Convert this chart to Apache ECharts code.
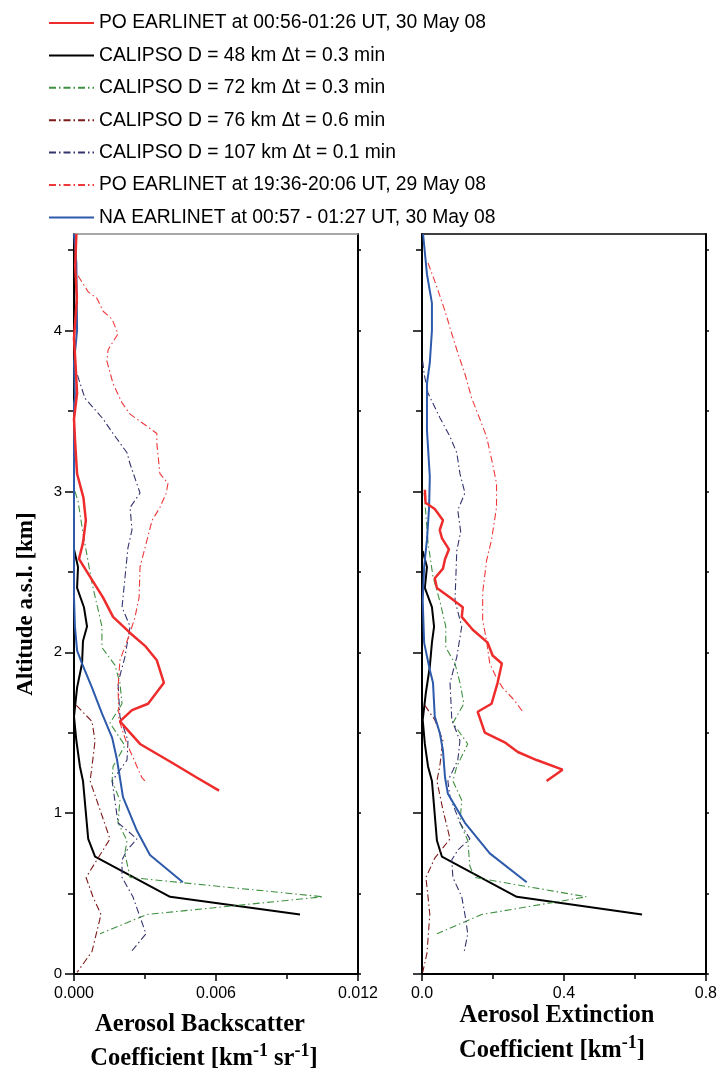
<!DOCTYPE html>
<html>
<head>
<meta charset="utf-8">
<script src="https://cdn.jsdelivr.net/npm/echarts@6/dist/echarts.min.js"></script>
<style>
  html, body { margin: 0; padding: 0; background: #fff; }
  #chart { width: 720px; height: 1068px; }
</style>
</head>
<body>
<div id="chart"></div>
<script>
// altitude ticks (km) and x tick labels
const altLabels = [0, 1, 2, 3, 4];
const altMinor = [0.5, 1.5, 2.5, 3.5, 4.5];
const altAll = [0, 0.5, 1, 1.5, 2, 2.5, 3, 3.5, 4, 4.5];
const bscTicks = [0, 0.006, 0.012];
const extTicks = [0, 0.4, 0.8];

const names = [
  'PO EARLINET at 00:56-01:26 UT, 30 May 08',
  'CALIPSO D = 48 km \u0394t = 0.3 min',
  'CALIPSO D = 72 km \u0394t = 0.3 min',
  'CALIPSO D = 76 km \u0394t = 0.6 min',
  'CALIPSO D = 107 km \u0394t = 0.1 min',
  'PO EARLINET at 19:36-20:06 UT, 29 May 08',
  'NA EARLINET at 00:57 - 01:27 UT, 30 May 08'
];

// backscatter [value, altitude]
const bscPo30 = [[0.0001,4.6],[0.00005,4.4],[0.00012,4.2],[0.0,3.95],[0.00008,3.75],[0.00013,3.61],[0.0,3.45],[0.00005,3.3],[0.00013,3.11],[0.0004,2.96],[0.0005,2.82],[0.00038,2.68],[0.00021,2.58],[0.00055,2.5],[0.00123,2.34],[0.00165,2.22],[0.00237,2.12],[0.003,2.04],[0.0035,1.95],[0.0038,1.81],[0.00313,1.68],[0.00245,1.64],[0.00194,1.57],[0.00279,1.43],[0.00418,1.31],[0.0052,1.22],[0.00613,1.14]];
const bscCal48 = [[0.0,2.64],[0.00017,2.53],[0.00013,2.4],[0.00042,2.28],[0.00055,2.16],[0.00038,2.07],[0.00034,1.93],[0.00013,1.78],[0.0,1.6],[0.0001,1.45],[0.00025,1.29],[0.00038,1.2],[0.0006,0.84],[0.00089,0.73],[0.00406,0.48],[0.00955,0.37]];
const bscCal72 = [[0.00004,3.0],[0.00017,2.94],[0.00038,2.74],[0.00076,2.43],[0.00118,2.16],[0.00118,2.03],[0.00173,1.92],[0.00194,1.81],[0.00203,1.68],[0.00152,1.56],[0.00215,1.42],[0.00165,1.29],[0.00161,1.2],[0.00194,1.08],[0.00186,0.94],[0.00224,0.83],[0.00215,0.75],[0.00237,0.6],[0.01052,0.48],[0.00308,0.37],[0.0011,0.25]];
const bscCal76 = [[0.0001,1.67],[0.00076,1.57],[0.00089,1.45],[0.00076,1.29],[0.00068,1.2],[0.0011,1.02],[0.00152,0.84],[0.00097,0.71],[0.00051,0.6],[0.0008,0.48],[0.00114,0.37],[0.00076,0.14],[0.00013,0.01]];
const bscCal107 = [[0.0,3.81],[0.00013,3.73],[0.00046,3.58],[0.00123,3.45],[0.00165,3.36],[0.00224,3.24],[0.00237,3.17],[0.00279,2.99],[0.00237,2.9],[0.00245,2.76],[0.00228,2.65],[0.00203,2.28],[0.00237,2.16],[0.00215,1.97],[0.00186,1.81],[0.00194,1.6],[0.00228,1.45],[0.00224,1.33],[0.00161,1.2],[0.00186,0.94],[0.00266,0.84],[0.00224,0.77],[0.00203,0.71],[0.00203,0.6],[0.00249,0.48],[0.00304,0.25],[0.00237,0.13]];
const bscPo29 = [[0.00017,4.34],[0.0006,4.24],[0.00097,4.2],[0.00123,4.12],[0.00161,4.07],[0.00186,3.98],[0.00144,3.88],[0.00139,3.81],[0.00165,3.67],[0.00203,3.55],[0.00237,3.48],[0.00313,3.4],[0.0035,3.36],[0.0035,3.3],[0.00363,3.11],[0.00397,3.05],[0.0039,2.99],[0.00363,2.9],[0.0033,2.82],[0.00279,2.53],[0.00275,2.34],[0.00258,2.22],[0.00237,2.12],[0.00194,1.95],[0.00186,1.78],[0.0019,1.58],[0.00224,1.43],[0.00287,1.22],[0.003,1.2]];
const bscNa30 = [[0.0,4.6],[0.0001,4.42],[0.00013,4.0],[0.0,3.8],[0.00004,3.58],[0.0,3.55],[0.0,2.34],[0.00004,2.16],[0.00013,2.01],[0.00034,1.93],[0.00076,1.78],[0.00118,1.62],[0.00161,1.47],[0.00182,1.33],[0.00194,1.22],[0.00207,1.1],[0.00266,0.89],[0.00321,0.74],[0.0046,0.57]];

// extinction [value, altitude]
const extPo30 = [[0.008,3.01],[0.01,2.93],[0.036,2.89],[0.059,2.82],[0.05,2.76],[0.056,2.71],[0.076,2.64],[0.065,2.58],[0.059,2.52],[0.036,2.46],[0.042,2.4],[0.079,2.34],[0.115,2.28],[0.112,2.22],[0.143,2.14],[0.185,2.06],[0.199,1.98],[0.225,1.93],[0.213,1.81],[0.196,1.68],[0.157,1.63],[0.177,1.5],[0.233,1.44],[0.27,1.38],[0.323,1.33],[0.396,1.27],[0.351,1.2]];
const extCal48 = [[0.002,2.63],[0.014,2.53],[0.008,2.4],[0.028,2.28],[0.034,2.16],[0.028,2.06],[0.022,1.91],[0.011,1.75],[0.002,1.58],[0.008,1.43],[0.017,1.29],[0.028,1.2],[0.042,0.83],[0.056,0.73],[0.267,0.48],[0.62,0.37]];
const extCal72 = [[0.006,2.99],[0.008,2.94],[0.017,2.68],[0.031,2.47],[0.05,2.32],[0.067,2.16],[0.067,2.03],[0.093,1.93],[0.107,1.81],[0.118,1.68],[0.087,1.56],[0.129,1.43],[0.098,1.29],[0.087,1.2],[0.112,1.08],[0.107,0.94],[0.129,0.83],[0.135,0.67],[0.149,0.6],[0.463,0.48],[0.168,0.37],[0.042,0.25]];
const extCal76 = [[0.008,1.67],[0.036,1.58],[0.059,1.45],[0.05,1.29],[0.042,1.2],[0.059,1.02],[0.079,0.84],[0.036,0.72],[0.011,0.6],[0.017,0.48],[0.022,0.37],[0.014,0.13],[0.002,0.01]];
const extCal107 = [[0.002,3.81],[0.006,3.73],[0.017,3.61],[0.05,3.46],[0.079,3.34],[0.098,3.24],[0.107,3.11],[0.121,2.99],[0.104,2.9],[0.101,2.88],[0.109,2.75],[0.098,2.63],[0.093,2.32],[0.112,2.16],[0.098,1.97],[0.079,1.81],[0.084,1.58],[0.107,1.45],[0.101,1.33],[0.073,1.2],[0.079,1.1],[0.107,0.94],[0.135,0.84],[0.101,0.77],[0.084,0.71],[0.087,0.6],[0.112,0.48],[0.121,0.37],[0.129,0.25],[0.118,0.13]];
const extPo29 = [[0.017,4.42],[0.042,4.27],[0.065,4.12],[0.084,3.98],[0.101,3.86],[0.121,3.73],[0.14,3.58],[0.163,3.45],[0.182,3.34],[0.199,3.17],[0.21,3.05],[0.21,2.9],[0.196,2.7],[0.182,2.57],[0.171,2.37],[0.171,2.2],[0.182,2.07],[0.191,1.93],[0.21,1.84],[0.227,1.78],[0.261,1.7],[0.284,1.63]];
const extNa30 = [[0.003,4.6],[0.014,4.35],[0.028,4.17],[0.028,4.0],[0.022,3.8],[0.014,3.67],[0.014,3.38],[0.022,3.09],[0.02,2.9],[0.014,2.7],[0.006,2.53],[0.002,2.32],[0.006,2.06],[0.022,1.89],[0.031,1.81],[0.036,1.6],[0.05,1.5],[0.059,1.39],[0.065,1.22],[0.073,1.12],[0.121,0.94],[0.191,0.75],[0.295,0.57]];

const dashDot = [7, 3, 1.5, 3];
const styles = [
  { color: '#ee2c2c', width: 2.5, type: 'solid' },
  { color: '#000000', width: 2, type: 'solid' },
  { color: '#3f9040', width: 1.1, type: dashDot },
  { color: '#7d1a1a', width: 1.1, type: dashDot },
  { color: '#34346e', width: 1.1, type: dashDot },
  { color: '#ee3a3a', width: 1.1, type: dashDot },
  { color: '#2d5aaa', width: 2, type: 'solid' }
];
const bscSets = [bscPo30, bscCal48, bscCal72, bscCal76, bscCal107, bscPo29, bscNa30];
const extSets = [extPo30, extCal48, extCal72, extCal76, extCal107, extPo29, extNa30];

function mkSeries(data, i, xi, yi) {
  return {
    name: names[i],
    type: 'line',
    xAxisIndex: xi,
    yAxisIndex: yi,
    data: data,
    showSymbol: false,
    symbol: 'none',
    sampling: null,
    color: styles[i].color,
    lineStyle: styles[i],
    z: i === 0 ? 5 : 3
  };
}

const series = [];
bscSets.forEach((d, i) => series.push(mkSeries(d, i, 0, 0)));
extSets.forEach((d, i) => series.push(mkSeries(d, i, 2, 3)));

const tickFont = { fontFamily: 'Liberation Sans', fontSize: 16, color: '#000' };

function bottomAxis(grid, max, step, labels, digits) {
  return {
    type: 'value', gridIndex: grid, position: 'bottom',
    min: 0, max: max, interval: step,
    axisLine: { onZero: false, lineStyle: { color: '#000', width: 2 } },
    axisTick: { show: true, length: 7, lineStyle: { color: '#000', width: 1.5 } },
    minorTick: { show: true, splitNumber: 2, length: 5, lineStyle: { color: '#000', width: 1.5 } },
    splitLine: { show: false },
    axisLabel: Object.assign({ margin: 12, formatter: v => labels.some(l => Math.abs(l - v) < 1e-9) ? v.toFixed(digits) : '' }, tickFont)
  };
}
function topAxis(grid, max, col) {
  return {
    type: 'value', gridIndex: grid, position: 'top', min: 0, max: max,
    axisLine: { onZero: false, lineStyle: { color: col, width: 1.5 } },
    axisTick: { show: false }, axisLabel: { show: false }, splitLine: { show: false }
  };
}
function leftAxis(grid, labels) {
  return {
    type: 'value', gridIndex: grid, position: 'left', min: 0, max: 4.6,
    axisLine: { onZero: false, lineStyle: { color: '#000', width: 2 } },
    axisTick: { show: true, length: 9, customValues: altLabels, lineStyle: { color: '#000', width: 1.5 } },
    axisLabel: Object.assign({ show: labels, margin: 12, customValues: altLabels }, tickFont, { fontSize: 15 }),
    splitLine: { show: false },
    name: labels ? 'Altitude a.s.l. [km]' : '',
    nameLocation: 'middle', nameGap: 36,
    nameTextStyle: { fontFamily: 'Liberation Serif', fontWeight: 'bold', fontSize: 23, color: '#000' }
  };
}
function minorAxis(grid) {
  return {
    type: 'value', gridIndex: grid, position: 'left', min: 0, max: 4.6,
    axisLine: { show: false, onZero: false },
    axisTick: { show: true, length: 6, customValues: altMinor, lineStyle: { color: '#000', width: 1.5 } },
    axisLabel: { show: false }, splitLine: { show: false }
  };
}
function rightAxis(grid) {
  return {
    type: 'value', gridIndex: grid, position: 'right', min: 0, max: 4.6,
    axisLine: { onZero: false, lineStyle: { color: '#000', width: 2 } },
    axisTick: { show: true, length: 3, customValues: altAll, lineStyle: { color: '#000', width: 1.5 } },
    axisLabel: { show: false }, splitLine: { show: false }
  };
}

const titleFont = 'bold 24.5px "Liberation Serif"';
const supFont = 'bold 18px "Liberation Serif"';

const option = {
  animation: false,
  backgroundColor: '#fff',
  legend: {
    orient: 'vertical', left: 48, top: 11, padding: 0,
    itemWidth: 45, itemHeight: 14, itemGap: 8.4,
    itemStyle: { opacity: 0 },
    textStyle: { fontFamily: 'Liberation Sans', fontSize: 19.3, lineHeight: 24, color: '#000' },
    data: names
  },
  grid: [
    { left: 74, top: 234, width: 284, height: 740 },
    { left: 422, top: 234, width: 285, height: 740 }
  ],
  xAxis: [
    bottomAxis(0, 0.012, 0.006, bscTicks, 3),
    topAxis(0, 0.012, '#8c8c8c'),
    bottomAxis(1, 0.8, 0.4, extTicks, 1),
    topAxis(1, 0.8, '#000')
  ],
  yAxis: [
    leftAxis(0, true), minorAxis(0), rightAxis(0),
    leftAxis(1, false), minorAxis(1), rightAxis(1)
  ],
  series: series,
  graphic: [
    { type: 'text', x: 200, y: 1024.5, style: { text: 'Aerosol Backscatter', font: titleFont, fill: '#000', align: 'center', verticalAlign: 'middle' } },
    { type: 'text', x: 204, y: 1059, style: {
        text: '{a|Coefficient [km}{s|-1}{a| sr}{s|-1}{a|]}', align: 'center', verticalAlign: 'middle', fill: '#000',
        rich: { a: { font: titleFont, fill: '#000' }, s: { font: supFont, fill: '#000', padding: [0, 0, 16, 0] } } } },
    { type: 'text', x: 557, y: 1016, style: { text: 'Aerosol Extinction', font: titleFont, fill: '#000', align: 'center', verticalAlign: 'middle' } },
    { type: 'text', x: 552, y: 1051, style: {
        text: '{a|Coefficient [km}{s|-1}{a|]}', align: 'center', verticalAlign: 'middle', fill: '#000',
        rich: { a: { font: titleFont, fill: '#000' }, s: { font: supFont, fill: '#000', padding: [0, 0, 16, 0] } } } }
  ]
};

const chart = echarts.init(document.getElementById('chart'), null, { renderer: 'canvas' });
chart.setOption(option);
</script>
</body>
</html>
